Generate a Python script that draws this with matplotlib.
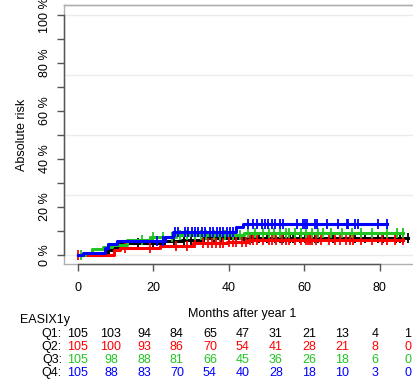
import numpy as np
import matplotlib.pyplot as plt
from matplotlib.transforms import blended_transform_factory

plt.rcParams['font.family'] = ['Liberation Sans', 'DejaVu Sans']

groups = ["Q1", "Q2", "Q3", "Q4"]
colors = ["#000000", "#FF0000", "#22C422", "#0000FF"]

# step curves: event times (months) and absolute risk (%)
q1_t = [0, 7.2, 8.0, 9.3, 11.0, 22.5, 27.5, 33.0]
q1_r = [0, 1.0, 2.0, 3.3, 4.8, 5.8, 6.4, 7.0]
q2_t = [0, 9.5, 11.0, 21.7, 30.5, 39.5, 45.0]
q2_r = [0, 2.0, 2.9, 3.9, 5.0, 5.6, 6.1]
q3_t = [0, 1.9, 3.7, 6.6, 9.0, 13.0, 19.0, 26.0, 44.0]
q3_r = [0, 1.0, 2.5, 3.3, 4.0, 6.3, 7.6, 8.2, 9.0]
q4_t = [0, 1.2, 7.2, 8.0, 10.4, 23.0, 25.2, 42.0, 43.7]
q4_r = [0, 1.0, 2.9, 4.6, 5.8, 7.5, 9.5, 11.7, 12.8]
end_t = [87.4, 86.0, 86.0, 81.8]

# censoring times
q1_c = [16, 20, 23, 25.5, 28, 30, 33.5, 36, 38, 40, 42, 44, 46, 48, 50, 52.2, 53.5,
        54.3, 55.1, 56.2, 57, 58.8, 60.1, 61.5, 62.8, 63.6, 67.5, 72, 73.4, 76,
        79.5, 80.8, 84.2, 85.3, 86.1, 87.4]
q2_c = [0, 12.5, 19, 26, 29, 31, 33, 34.5, 35.5, 36.5, 37.5, 38.5, 40, 41, 42,
        43.5, 44.5, 45.5, 46.5, 47.5, 49, 50.5, 51.5, 52.5, 54, 55, 56, 57.5, 59,
        60.5, 61, 61.5, 62, 63, 64.5, 66.5, 68, 69.5, 71, 72, 73, 75, 78, 80.5,
        82, 84, 86]
q3_c = [0.8, 17, 20, 22.5, 25, 27, 29, 31, 32.5, 34, 36, 37.5, 39, 41, 43, 45,
        47, 49, 50.5, 52, 53.5, 55, 56, 57.5, 59, 60.5, 62, 63.5, 65, 67, 70,
        72.5, 75, 78, 82, 84.5, 86]
q4_c = [21, 22.5, 25.7, 26.5, 28.3, 29.1, 30.2, 31, 31.8, 32.8, 33.6, 35, 35.8,
        36.8, 37.6, 38.4, 39.5, 40.3, 41.2, 45, 46.4, 47.4, 48.7, 49.5, 50.3,
        51.4, 52.2, 53.5, 54.3, 58, 59.6, 60.1, 60.6, 62.8, 63.3, 65.9, 68.9,
        71.3, 71.5, 73.4, 74.2, 79.5, 81.8]

# number at risk table
risk_times = np.linspace(0, 87.4, 11)
q1_n = [105, 103, 94, 84, 65, 47, 31, 21, 13, 4, 1]
q2_n = [105, 100, 93, 86, 70, 54, 41, 28, 21, 8, 0]
q3_n = [105, 98, 88, 81, 66, 45, 36, 26, 18, 6, 0]
q4_n = [105, 88, 83, 70, 54, 40, 28, 18, 10, 3, 0]

W, H = 414, 388
fs = 9
fig = plt.figure(figsize=(W / 100, H / 100), dpi=100)
ax = fig.add_axes([64 / W, 1 - 264 / H, (421 - 64) / W, (264 - 5) / H])
ax.set_xlim(-3.71, 90.9)
ax.set_ylim(-3.75, 104.2)

for yy in [0, 25, 50, 75, 100]:
    ax.axhline(yy, color="#EBEBEB", lw=1.0, zorder=0)

curves = [(q1_t, q1_r, q1_c), (q2_t, q2_r, q2_c), (q3_t, q3_r, q3_c), (q4_t, q4_r, q4_c)]
for (t, r, c), col, te in zip(curves, colors, end_t):
    tt = list(t) + [te]
    rr = list(r) + [r[-1]]
    ax.step(tt, rr, where="post", color=col, lw=2.2, zorder=3)
    idx = np.searchsorted(t, c, side="right") - 1
    ax.plot(c, np.array(r)[idx], ls="none", marker="|", ms=7.5, mew=1.3,
            color=col, zorder=3)

for s in ax.spines.values():
    s.set_color("#B0B0B0")
    s.set_linewidth(1.0)
ax.spines["left"].set_bounds(0, 100)
ax.spines["left"].set_color("#555555")
ax.spines["bottom"].set_bounds(0, 80)
ax.spines["bottom"].set_color("#555555")
ax.plot([0, 0], [0, 1], transform=ax.transAxes, color="#B0B0B0", lw=1.0, zorder=1, clip_on=False)
ax.plot([0, 1], [0, 0], transform=ax.transAxes, color="#B0B0B0", lw=1.0, zorder=1, clip_on=False)
ax.plot([0, 1], [1, 1], transform=ax.transAxes, color="#B0B0B0", lw=1.0, zorder=1, clip_on=False)

ax.set_yticks(np.arange(0, 101, 10))
ax.set_yticklabels([f"{v} %" if v % 20 == 0 else "" for v in range(0, 101, 10)],
                   rotation=90, va="center")
ax.set_xticks([0, 20, 40, 60, 80])
ax.tick_params(axis="y", length=5, width=1, color="#555555", pad=4, labelsize=fs)
ax.tick_params(axis="x", length=5, width=1, color="#555555", pad=8, labelsize=fs)
ax.set_ylabel("Absolute risk", fontsize=fs, labelpad=8)
ax.set_xlabel("Months after year 1", fontsize=fs, labelpad=10)

tr = blended_transform_factory(ax.transData, fig.transFigure)
fig.text(20 / W, 1 - 320 / H, "EASIX1y", fontsize=fs, ha="left", va="center")
rows = [q1_n, q2_n, q3_n, q4_n]
row_y = [334, 347, 360, 373]
for g, n, col, py in zip(groups, rows, colors, row_y):
    fig.text(62 / W, 1 - py / H, g + ":", fontsize=fs, ha="right", va="center")
    for tx, v in zip(risk_times, n):
        ax.text(tx, 1 - py / H, str(v), transform=tr, fontsize=fs, color=col,
                ha="center", va="center", clip_on=False)

fig.savefig("out.png", dpi=100)
